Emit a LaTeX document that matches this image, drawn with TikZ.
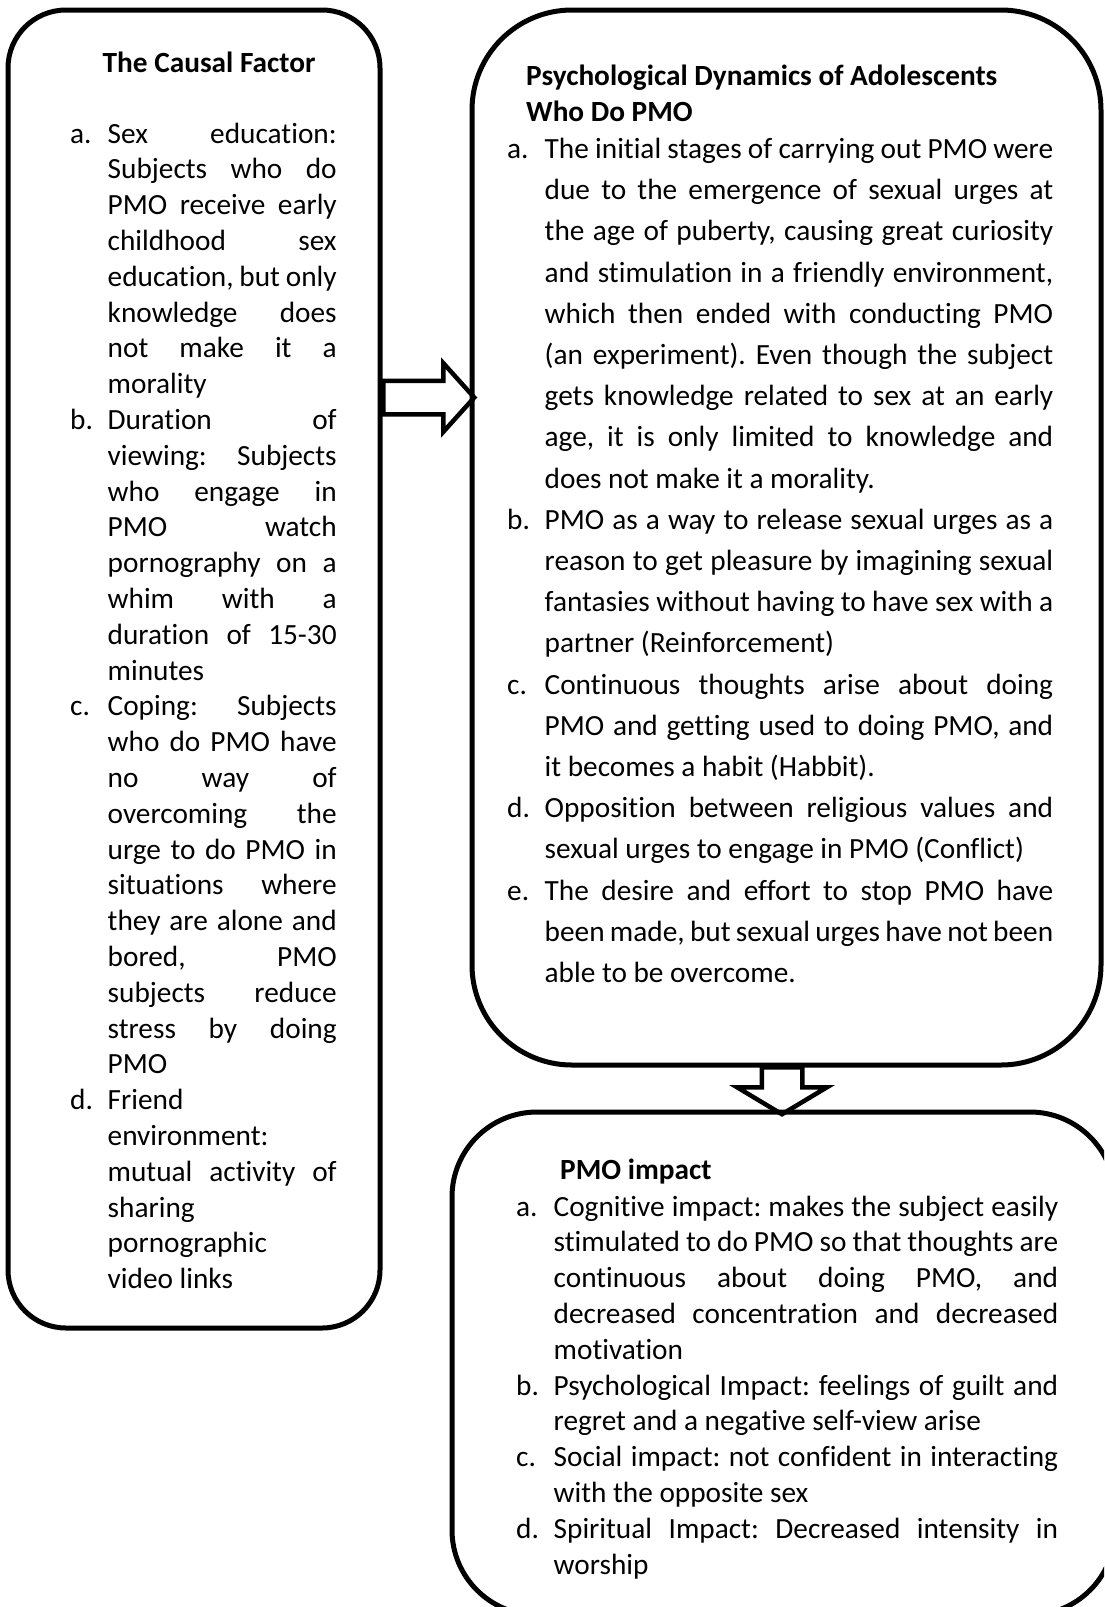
\documentclass[tikz,border=0pt]{standalone}
\usepackage{fontspec}
\setmainfont{Carlito}[Ligatures=NoCommon]
\usetikzlibrary{shapes.arrows}

\newlength{\hangw}
\setlength{\hangw}{37.5pt}
\newcommand{\pitem}[2]{\hangindent=\hangw\hangafter=1\noindent\makebox[\hangw][l]{#1}#2\par}
\newcommand{\bodysetup}{\hyphenpenalty=10000\exhyphenpenalty=10000\tolerance=10000\frenchspacing\spaceskip=6.6pt plus 30pt minus 2.2pt}

\begin{document}
\begin{tikzpicture}[x=1pt, y=-1pt,
    box/.style={draw, line width=5pt, inner sep=0pt},
    head/.style={anchor=base west, inner sep=0pt, align=left, font=\fontsize{29.3pt}{36pt}\selectfont\bfseries},
    body/.style={anchor=base west, inner sep=0pt, align=justify, font=\fontsize{29.3pt}{35.8pt}\selectfont\bodysetup},
    hollow/.style={single arrow, draw, line width=4.5pt, inner xsep=0pt, single arrow head indent=0pt, anchor=tail}]
    \path[fill=white, use as bounding box] (0,0) rectangle (1104,1607);
    \clip (0,0) rectangle (1104,1607);

    \node [box, minimum width=372pt, minimum height=1318pt, rounded corners=58pt] (causal) at (194,669) {};
    \node [box, minimum width=629pt, minimum height=1055pt, rounded corners=100pt] (dyn) at (786.5,537.5) {};
    \node [box, minimum width=663pt, minimum height=503pt, rounded corners=85pt] (impact) at (783.5,1363.5) {};

    \node [hollow, minimum height=91pt, minimum width=64pt, inner ysep=14.5pt, single arrow head extend=17.5pt, single arrow tip angle=96] (toDyn) at (381,397.5) {};
    \node [hollow, rotate=-90, minimum height=47pt, minimum width=85pt, inner ysep=18pt, single arrow head extend=24.5pt, single arrow tip angle=118] (toImpact) at (782,1065) {};

    \node [head] (causalhead) at (102.5,72.5) {The Causal Factor};
    \node [body, text width=266.5pt] (causaltxt) at (70,143) {%
      \pitem{a.}{Sex education:\linebreak Subjects who do\linebreak PMO receive early\linebreak childhood sex\linebreak education, but only\linebreak knowledge does\linebreak not make it a\linebreak morality}%
      \pitem{b.}{Duration of\linebreak viewing: Subjects\linebreak who engage in\linebreak PMO watch\linebreak pornography on a\linebreak whim with a\linebreak duration of 15-30\linebreak minutes}%
      \pitem{c.}{Coping: Subjects\linebreak who do PMO have\linebreak no way of\linebreak overcoming the\linebreak urge to do PMO in\linebreak situations where\linebreak they are alone and\linebreak bored, PMO\linebreak subjects reduce\linebreak stress by doing\linebreak PMO}%
      \pitem{d.}{Friend\linebreak environment:\linebreak mutual activity of\linebreak sharing\linebreak pornographic\linebreak video links}};

    \node [head] (dynhead) at (526,121) {Psychological Dynamics of Adolescents\\Who Do PMO};
    \node [body, text width=546pt, font=\fontsize{29.3pt}{41.2pt}\selectfont\bodysetup] (dyntxt) at (507,158.5) {%
      \pitem{a.}{The initial stages of carrying out PMO were\linebreak due to the emergence of sexual urges at\linebreak the age of puberty, causing great curiosity\linebreak and stimulation in a friendly environment,\linebreak which then ended with conducting PMO\linebreak (an experiment). Even though the subject\linebreak gets knowledge related to sex at an early\linebreak age, it is only limited to knowledge and\linebreak does not make it a morality.}%
      \pitem{b.}{PMO as a way to release sexual urges as a\linebreak reason to get pleasure by imagining sexual\linebreak fantasies without having to have sex with a\linebreak partner (Reinforcement)}%
      \pitem{c.}{Continuous thoughts arise about doing\linebreak PMO and getting used to doing PMO, and\linebreak it becomes a habit (Habbit).}%
      \pitem{d.}{Opposition between religious values and\linebreak sexual urges to engage in PMO (Conflict)}%
      \pitem{e.}{The desire and effort to stop PMO have\linebreak been made, but sexual urges have not been\linebreak able to be overcome.}};

    \node [head] (impacthead) at (560,1179.5) {PMO impact};
    \node [body, text width=542pt] (impacttxt) at (516,1216) {%
      \pitem{a.}{Cognitive impact: makes the subject easily\linebreak stimulated to do PMO so that thoughts are\linebreak continuous about doing PMO, and\linebreak decreased concentration and decreased\linebreak motivation}%
      \pitem{b.}{Psychological Impact: feelings of guilt and\linebreak regret and a negative self-view arise}%
      \pitem{c.}{Social impact: not confident in interacting\linebreak with the opposite sex}%
      \pitem{d.}{Spiritual Impact: Decreased intensity in\linebreak worship}};
\end{tikzpicture}
\end{document}
